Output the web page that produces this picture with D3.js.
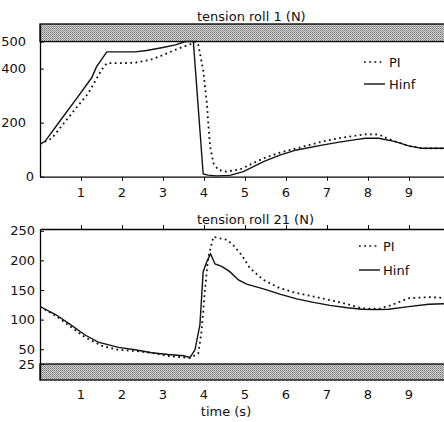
<!DOCTYPE html>
<html>
<head>
<meta charset="utf-8">
<script src="https://cdn.jsdelivr.net/npm/d3@7"></script>
<style>
body { margin: 0; background: #fff; }
svg { display: block; font-family: "DejaVu Sans", sans-serif; }
</style>
</head>
<body>
<svg id="chart" width="444" height="422"></svg>
<script>
// time axis ticks
var timeTicks = [1, 2, 3, 4, 5, 6, 7, 8, 9];

// tension roll 1 (N)
var hinf1Time = [0, 0.12, 0.5, 0.9, 1.26, 1.38, 1.63, 2.0, 2.32, 2.6, 3.0, 3.3, 3.55, 3.74, 3.98, 4.1, 4.3, 4.63, 4.96, 5.45, 5.85, 6.26, 6.88, 7.3, 7.7, 7.94, 8.26, 8.67, 8.99, 9.32, 10];
var hinf1Vals = [121, 130, 209, 291, 366, 407, 462, 462, 462, 467, 478, 488, 500, 500, 10, 6, 3, 5, 19, 56, 80, 99, 117, 128, 137, 142, 142, 130, 114, 105, 105];
var pi1Time = [0, 0.29, 0.53, 0.81, 1.18, 1.5, 1.63, 2.0, 2.32, 2.68, 3.0, 3.29, 3.5, 3.7, 3.8, 3.86, 3.98, 4.07, 4.11, 4.15, 4.23, 4.35, 4.55, 4.88, 5.45, 5.85, 6.26, 6.88, 7.3, 7.7, 7.94, 8.26, 8.5, 8.67, 8.99, 9.32, 10];
var pi1Vals = [121, 142, 188, 241, 309, 395, 420, 420, 422, 432, 450, 469, 481, 492, 500, 488, 395, 272, 185, 111, 50, 25, 19, 27, 68, 89, 105, 130, 143, 152, 157, 156, 140, 130, 114, 105, 105];
var roll1Ticks = [0, 200, 400, 500];

// tension roll 21 (N)
var hinf21Time = [0, 0.37, 0.69, 1.1, 1.42, 1.91, 2.32, 2.72, 3.13, 3.5, 3.66, 3.78, 3.9, 3.98, 4.07, 4.16, 4.27, 4.43, 4.63, 4.84, 5.04, 5.45, 5.85, 6.26, 6.67, 7.07, 7.5, 7.85, 8.2, 8.5, 8.99, 9.48, 10];
var hinf21Vals = [122, 109, 94, 74, 62, 53, 49, 44, 41, 39, 36, 49, 91, 181, 198, 211, 194, 190, 181, 167, 160, 152, 143, 135, 129, 124, 120, 117.5, 117, 117.5, 122, 126, 127];
var pi21Time = [0, 0.37, 0.69, 1.1, 1.5, 1.91, 2.32, 2.72, 3.13, 3.5, 3.66, 3.86, 3.94, 4.02, 4.1, 4.23, 4.39, 4.55, 4.71, 4.92, 5.12, 5.45, 5.85, 6.26, 6.67, 7.07, 7.5, 7.85, 8.26, 8.59, 8.99, 9.48, 10];
var pi21Vals = [122, 107, 91, 70, 56, 49, 47, 44, 38.5, 36, 35, 43, 80, 147, 204, 240, 237, 235, 226, 209, 187, 167, 153, 145, 139, 133, 126, 119, 118, 125, 136, 138, 136];
var roll21Ticks = [25, 50, 100, 150, 200, 250];

var svg = d3.select('#chart');

// dotted grey band pattern
var pat = svg.append('defs').append('pattern')
	.attr('id', 'hatch').attr('width', 2).attr('height', 2)
	.attr('patternUnits', 'userSpaceOnUse');
pat.append('rect').attr('width', 2).attr('height', 2).attr('fill', '#cfcfcf');
pat.append('rect').attr('width', 1).attr('height', 1).attr('fill', '#7c7c7c');
pat.append('rect').attr('x', 1).attr('y', 1).attr('width', 1).attr('height', 1).attr('fill', '#9a9a9a');

var x = d3.scaleLinear().domain([0, 10]).range([40, 450]);

var zip = function (ts, vs) {
	return ts.map(function (t, i) { return [t, vs[i]]; });
};

var drawPanel = function (opt) {
	var y = d3.scaleLinear().domain(opt.domain).range(opt.range);
	var g = svg.append('g');
	var top = opt.range[1], bottom = opt.range[0];

	g.append('clipPath').attr('id', opt.id + '-clip')
		.append('rect').attr('x', 40).attr('y', top).attr('width', 410).attr('height', bottom - top);

	// band (constraint region)
	g.append('rect')
		.attr('x', 40).attr('width', 410)
		.attr('y', y(opt.band[1])).attr('height', y(opt.band[0]) - y(opt.band[1]))
		.attr('fill', 'url(#hatch)')
		.attr('stroke', '#000').attr('stroke-width', 1.3);

	// left axis
	var yAxis = g.append('g').attr('transform', 'translate(40,0)')
		.call(d3.axisLeft(y).tickValues(opt.yTicks).tickSizeInner(-4).tickSizeOuter(0).tickPadding(opt.yPad));
	yAxis.select('.domain').attr('stroke-width', 1.3);
	yAxis.selectAll('text').attr('font-size', 13).attr('font-family', '"DejaVu Sans", sans-serif').attr('fill', '#111');
	if (opt.yShift) {
		yAxis.selectAll('.tick text').attr('dx', function (d) { return d === 0 ? 0 : opt.yShift; });
	}

	// time axis
	var xAxis = g.append('g').attr('transform', 'translate(0,' + opt.xAxisY + ')')
		.call((opt.xUp ? d3.axisBottom(x) : d3.axisTop(x)).tickValues(timeTicks).tickSizeInner(-4).tickSizeOuter(0));
	xAxis.select('.domain').attr('stroke-width', 1.3);
	xAxis.selectAll('text').remove();

	g.selectAll('text.xlab').data(timeTicks).enter().append('text')
		.attr('class', 'xlab')
		.attr('x', function (d) { return x(d); })
		.attr('y', opt.xLabelY)
		.attr('text-anchor', 'middle')
		.attr('font-size', 13).attr('fill', '#111')
		.text(function (d) { return d; });

	var line = d3.line().x(function (d) { return x(d[0]); }).y(function (d) { return y(d[1]); });
	var lines = g.append('g').attr('clip-path', 'url(#' + opt.id + '-clip)');
	lines.append('path').datum(zip(opt.piT, opt.piV))
		.attr('d', line).attr('fill', 'none').attr('stroke', '#111')
		.attr('stroke-width', 1.8).attr('stroke-dasharray', '1.8,3.4');
	lines.append('path').datum(zip(opt.hT, opt.hV))
		.attr('d', line).attr('fill', 'none').attr('stroke', '#111').attr('stroke-width', 1.4);

	// title
	g.append('text').attr('x', 197).attr('y', opt.titleY)
		.attr('font-size', 13).attr('fill', '#111').text(opt.title);

	// legend
	var lg = opt.legend;
	g.append('line').attr('x1', lg.x1).attr('x2', lg.x2).attr('y1', lg.y1).attr('y2', lg.y1)
		.attr('stroke', '#111').attr('stroke-width', 1.6).attr('stroke-dasharray', '1.8,3.4');
	g.append('text').attr('x', lg.tx).attr('y', lg.y1 + 5).attr('font-size', 13).attr('fill', '#111').text('PI');
	g.append('line').attr('x1', lg.x1).attr('x2', lg.x2 + 2).attr('y1', lg.y2).attr('y2', lg.y2)
		.attr('stroke', '#111').attr('stroke-width', 1.4);
	g.append('text').attr('x', lg.tx).attr('y', lg.y2 + 5).attr('font-size', 13).attr('fill', '#111').text('Hinf');
};

drawPanel({
	id: 'roll1', title: 'tension roll 1 (N)', titleY: 21,
	domain: [0, 565], range: [176.7, 24], band: [500, 565],
	yTicks: roll1Ticks, yPad: 6, yShift: -8,
	xAxisY: 176.7, xUp: false, xLabelY: 197,
	hT: hinf1Time, hV: hinf1Vals, piT: pi1Time, piV: pi1Vals,
	legend: { x1: 364, x2: 383, tx: 389, y1: 62, y2: 84 }
});

drawPanel({
	id: 'roll21', title: 'tension roll 21 (N)', titleY: 224,
	domain: [-2, 253], range: [380, 229], band: [-2, 25],
	yTicks: roll21Ticks, yPad: 5,
	xAxisY: 229, xUp: true, xLabelY: 399,
	hT: hinf21Time, hV: hinf21Vals, piT: pi21Time, piV: pi21Vals,
	legend: { x1: 359, x2: 378, tx: 383, y1: 246, y2: 270 }
});

svg.append('text').attr('x', 226).attr('y', 416).attr('text-anchor', 'middle')
	.attr('font-size', 13).attr('fill', '#111').text('time (s)');
</script>
</body>
</html>
